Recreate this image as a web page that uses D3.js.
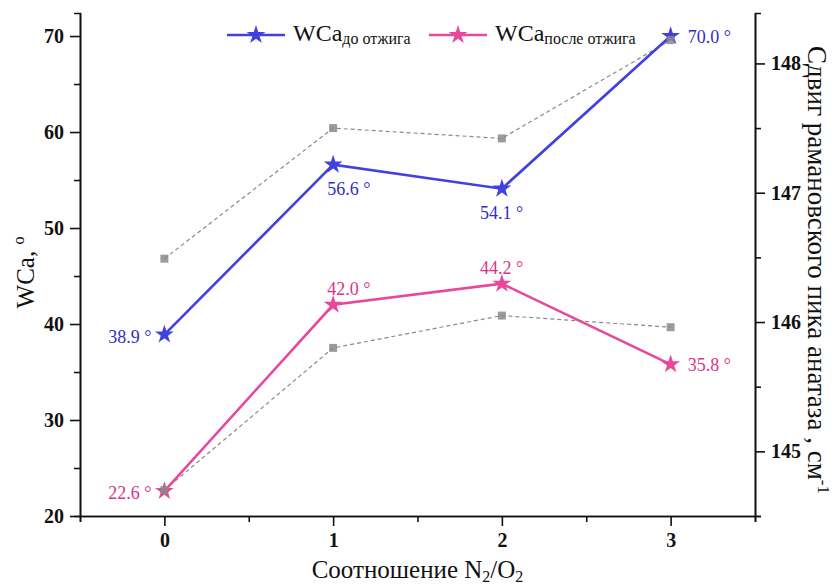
<!DOCTYPE html>
<html>
<head>
<meta charset="utf-8">
<script src="https://cdn.jsdelivr.net/npm/d3@7"></script>
<style>
  html, body { margin: 0; padding: 0; background: #fff; }
  svg { display: block; }
  svg text { font-family: "Liberation Serif", "Times New Roman", Tinos, "DejaVu Serif", serif !important; }
</style>
</head>
<body>
<svg id="chart" width="834" height="584"></svg>
<script>
// N2/O2 ratio
const ratios = [0, 1, 2, 3];
// water contact angle, degrees
const wcaBefore = [38.9, 56.6, 54.1, 70.0];
const wcaAfter = [22.6, 42.0, 44.2, 35.8];
// anatase Raman peak shift, cm^-1 (right axis)
const ramanBefore = [146.49, 147.50, 147.42, 148.18];
const ramanAfter = [144.70, 145.80, 146.05, 145.96];
// tick values
const xTicks = [0, 1, 2, 3];
const xMinor = [-0.5, 0.5, 1.5, 2.5, 3.5];
const yLeftTicks = [20, 30, 40, 50, 60, 70];
const yLeftMinor = [25, 35, 45, 55, 65];
const yRightTicks = [145, 146, 147, 148];
const yRightMinor = [144.5, 145.5, 146.5, 147.5];

const SERIF = "'Liberation Serif', 'Times New Roman', Tinos, 'DejaVu Serif', serif";
const BLUE = "#4141e0", BLUE_TXT = "#2f2fc0";
const PINK = "#e8489c", PINK_TXT = "#d83488";
const GREY = "#8a8a8a";

const svg = d3.select("#chart").attr("font-family", SERIF);
const L = 80, R = 755, T = 13, B = 516;

const x = d3.scaleLinear().domain([-0.5, 3.5]).range([L, R]);
const yL = d3.scaleLinear().domain([20, 72.4]).range([B, T]);
const yR = d3.scaleLinear().domain([144.5, 148.39]).range([B, T]);

function styleAxis(g) {
  g.attr("font-family", SERIF);
  g.selectAll("path.domain").attr("stroke", "#111").attr("stroke-width", 1.6);
  g.selectAll(".tick line").attr("stroke", "#111").attr("stroke-width", 1.6);
  g.selectAll(".tick text")
    .attr("fill", "#111")
    .style("font-size", "20px")
    .style("font-weight", "bold");
}

// minor ticks first (no labels)
svg.append("g").attr("transform", `translate(0,${B})`)
  .call(d3.axisBottom(x).tickValues(xMinor).tickSize(6).tickFormat(""))
  .call(styleAxis);
svg.append("g").attr("transform", `translate(${L},0)`)
  .call(d3.axisLeft(yL).tickValues(yLeftMinor).tickSize(6).tickFormat(""))
  .call(styleAxis);
svg.append("g").attr("transform", `translate(${R},0)`)
  .call(d3.axisRight(yR).tickValues(yRightMinor).tickSize(6).tickFormat(""))
  .call(styleAxis);

// major ticks
svg.append("g").attr("transform", `translate(0,${B})`)
  .call(d3.axisBottom(x).tickValues(xTicks).tickSize(10).tickSizeOuter(0).tickPadding(7).tickFormat(d3.format("d")))
  .call(styleAxis);
svg.append("g").attr("transform", `translate(${L},0)`)
  .call(d3.axisLeft(yL).tickValues(yLeftTicks).tickSize(10).tickSizeOuter(0).tickPadding(6).tickFormat(d3.format("d")))
  .call(styleAxis);
svg.append("g").attr("transform", `translate(${R},0)`)
  .call(d3.axisRight(yR).tickValues(yRightTicks).tickSize(10).tickSizeOuter(0).tickPadding(6).tickFormat(d3.format("d")))
  .call(styleAxis);

// Raman shift series (right axis)
const rLine = d3.line().x((d, i) => x(ratios[i])).y(d => yR(d));
[ramanBefore, ramanAfter].forEach(series => {
  svg.append("path").datum(series)
    .attr("d", rLine)
    .attr("fill", "none")
    .attr("stroke", GREY)
    .attr("stroke-width", 1.2)
    .attr("stroke-dasharray", "4,3");
});

// WCa series (left axis)
const star = d3.symbol().type(d3.symbolStar).size(110);
const wLine = d3.line().x((d, i) => x(ratios[i])).y(d => yL(d));
function drawWca(series, color) {
  svg.append("path").datum(series)
    .attr("d", wLine)
    .attr("fill", "none")
    .attr("stroke", color)
    .attr("stroke-width", 2.6);
  svg.append("g").selectAll("path").data(series).join("path")
    .attr("d", star)
    .attr("transform", (d, i) => `translate(${x(ratios[i])},${yL(d)})`)
    .attr("fill", color);
}
drawWca(wcaBefore, BLUE);
drawWca(wcaAfter, PINK);

// Raman markers drawn over the lines
[ramanBefore, ramanAfter].forEach(series => {
  svg.append("g").selectAll("rect").data(series).join("rect")
    .attr("x", (d, i) => x(ratios[i]) - 4)
    .attr("y", d => yR(d) - 4)
    .attr("width", 8).attr("height", 8)
    .attr("fill", GREY)
    .attr("fill-opacity", 0.85);
});

// value labels: [dx, dy, anchor]
const beforePos = [[-13, 8, "end"], [-6, 30, "start"], [-22, 30, "start"], [17, 7, "start"]];
const afterPos = [[-13, 8, "end"], [-6, -10, "start"], [-22, -10, "start"], [17, 7, "start"]];
function drawLabels(series, pos, color) {
  svg.append("g").selectAll("text").data(series).join("text")
    .attr("x", (d, i) => x(ratios[i]) + pos[i][0])
    .attr("y", (d, i) => yL(d) + pos[i][1])
    .attr("text-anchor", (d, i) => pos[i][2])
    .attr("fill", color)
    .style("font-size", "18px")
    .text(d => d3.format(".1f")(d) + " °");
}
drawLabels(wcaBefore, beforePos, BLUE_TXT);
drawLabels(wcaAfter, afterPos, PINK_TXT);

// legend
const legend = [
  { color: BLUE, sub: "до отжига", x0: 227 },
  { color: PINK, sub: "после отжига", x0: 429 }
];
legend.forEach(it => {
  const g = svg.append("g");
  g.append("line").attr("x1", it.x0).attr("x2", it.x0 + 58)
    .attr("y1", 35).attr("y2", 35)
    .attr("stroke", it.color).attr("stroke-width", 2.4);
  g.append("path").attr("d", star)
    .attr("transform", `translate(${it.x0 + 29},35)`)
    .attr("fill", it.color);
  const t = g.append("text").attr("x", it.x0 + 66).attr("y", 41)
    .attr("fill", "#111").style("font-size", "24px");
  t.append("tspan").text("WCa");
  t.append("tspan").attr("dy", 3).style("font-size", "16px").text(it.sub);
});

// axis titles
const xt = svg.append("text")
  .attr("x", (L + R) / 2).attr("y", 578)
  .attr("text-anchor", "middle").attr("fill", "#111")
  .style("font-size", "25px");
xt.append("tspan").text("Соотношение N");
xt.append("tspan").attr("dy", 4).style("font-size", "16px").text("2");
xt.append("tspan").attr("dy", -4).text("/O");
xt.append("tspan").attr("dy", 4).style("font-size", "16px").text("2");

const ylt = svg.append("text")
  .attr("transform", `translate(34,${(T + B) / 2 + 8}) rotate(-90)`)
  .attr("text-anchor", "middle").attr("fill", "#111")
  .style("font-size", "25px");
ylt.append("tspan").text("WCa, ");
ylt.append("tspan").attr("dy", -10).style("font-size", "16px").text("o");

const yrt = svg.append("text")
  .attr("transform", `translate(808,270) rotate(90)`)
  .attr("text-anchor", "middle").attr("fill", "#111")
  .style("font-size", "27px");
yrt.append("tspan").text("Сдвиг рамановского пика анатаза , см");
yrt.append("tspan").attr("dy", -10).style("font-size", "17px").text("-1");
</script>
</body>
</html>
